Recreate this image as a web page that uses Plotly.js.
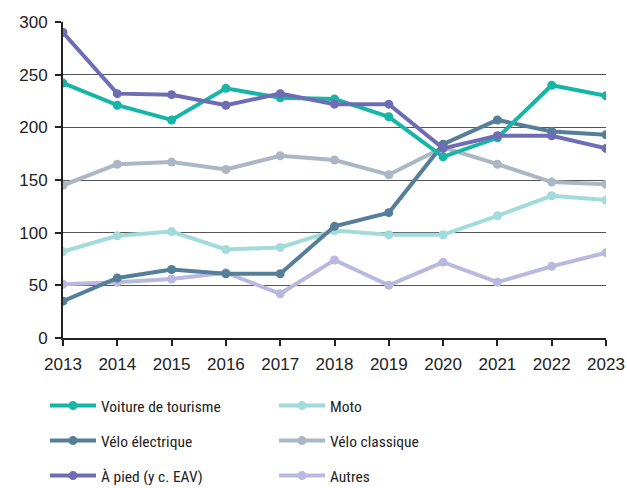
<!DOCTYPE html>
<html><head><meta charset="utf-8">
<script src="https://cdn.plot.ly/plotly-3.0.1.min.js"></script>
<style>body{margin:0;background:#fff}#chart{width:627px;height:488px}</style>
</head><body><div id="chart"></div>
<script>
const years = [2013,2014,2015,2016,2017,2018,2019,2020,2021,2022,2023];
const voiture = [242,221,207,237,228,227,210,172,190,240,230];
const moto = [82,97,101,84,86,102,98,98,116,135,131];
const veloElec = [35,57,65,61,61,106,119,184,207,196,193];
const veloClass = [145,165,167,160,173,169,155,181,165,148,146];
const pied = [290,232,231,221,232,222,222,180,192,192,180];
const autres = [51,53,56,62,42,74,50,72,53,68,81];
const names = ["Voiture de tourisme","Moto","Vélo électrique","Vélo classique","À pied (y c. EAV)","Autres"];
const yTicks = [0,50,100,150,200,250,300];

const series = [voiture, moto, veloElec, veloClass, pied, autres];
const colors = ["#17b5a7","#a2dbdb","#557e99","#abb7c5","#6e6cb4","#b9b9e0"];
const legendIds = ["legend","legend","legend2","legend2","legend3","legend3"];
const traces = series.map((s,i)=>({
  x: years, y: s, name: names[i], type:'scatter', mode:'lines+markers',
  line:{color:colors[i], width:4}, marker:{color:colors[i], size:9},
  legend: legendIds[i], legendrank: i
}));
// draw order: À pied on top
const drawOrder = [3,1,5,2,0,4];
const data = drawOrder.map(i=>traces[i]);

const legFont = {family:"Roboto Condensed, Roboto, sans-serif", size:15.5, color:"#222"};
const legBase = {orientation:'h', xref:'container', yref:'container', xanchor:'left', yanchor:'middle',
  x:45/627, entrywidth:168, entrywidthmode:'pixels', itemwidth:46, font:legFont, bgcolor:'rgba(0,0,0,0)', traceorder:'normal'};

const layout = {
  width:627, height:488,
  margin:{l:63, r:21, t:22, b:150},
  paper_bgcolor:'#fff', plot_bgcolor:'#fff',
  font:{family:"Liberation Sans, Arial, sans-serif", size:17, color:"#222"},
  showlegend:true,
  xaxis:{range:[2013,2023], tickvals:years, ticktext:years.map(String), showgrid:false,
    showline:true, linecolor:'#222', linewidth:2, ticks:'outside', ticklen:6, tickwidth:2, tickcolor:'#222',
    ticklabelstandoff:4, zeroline:false, fixedrange:true},
  yaxis:{range:[0,300], tickvals:yTicks, showgrid:true, gridcolor:'#555', gridwidth:1,
    showline:true, linecolor:'#222', linewidth:2, ticks:'outside', ticklen:6, tickwidth:2, tickcolor:'#222',
    ticklabelstandoff:4, zeroline:false, fixedrange:true},
  legend: Object.assign({}, legBase, {y:82/488}),
  legend2: Object.assign({}, legBase, {y:47/488}),
  legend3: Object.assign({}, legBase, {y:12/488})
};
Plotly.newPlot('chart', data, layout, {displayModeBar:false, staticPlot:true});
</script></body></html>
